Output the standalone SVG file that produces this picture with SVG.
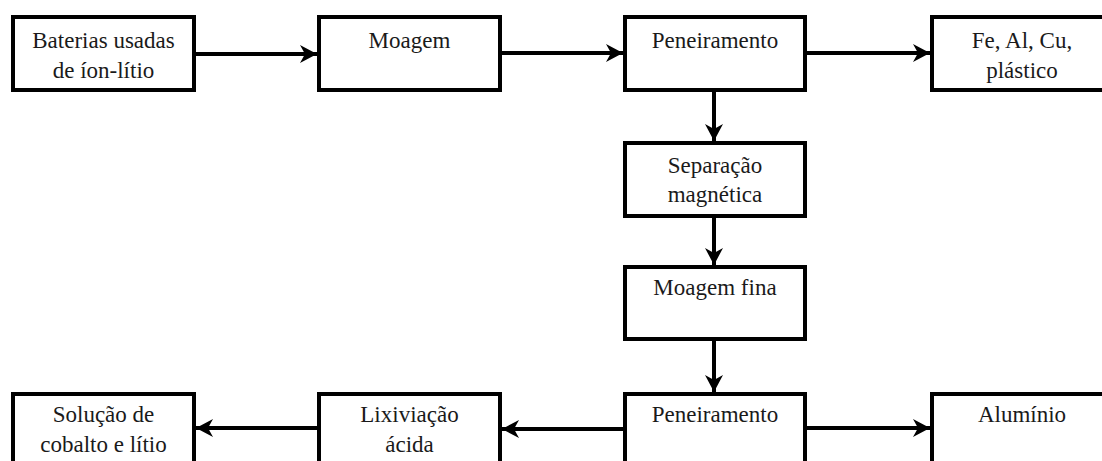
<svg xmlns="http://www.w3.org/2000/svg" width="1102" height="461" viewBox="0 0 1102 461">
  <style>
    .box { fill: #ffffff; stroke: #000000; stroke-width: 4; }
    .lbl { font-family: "Liberation Serif", "Times New Roman", serif; font-size: 23px; fill: #1a1a1a; text-anchor: middle; }
    .conn { stroke: #000000; stroke-width: 4; fill: none; marker-end: url(#head); }
  </style>
  <defs>
    <marker id="head" markerUnits="userSpaceOnUse" markerWidth="20" markerHeight="20" refX="17" refY="9" orient="auto">
      <path d="M0,0 L17,9 L0,18 L5,9 Z" fill="#000000"/>
    </marker>
  </defs>
  <rect x="0" y="0" width="1102" height="461" fill="#ffffff"/>

  <!-- process steps -->
  <g id="baterias">
    <rect class="box" x="13" y="17" width="181" height="73"/>
    <text class="lbl" x="103.5" y="48">Baterias usadas</text>
    <text class="lbl" x="103.5" y="78">de íon-lítio</text>
  </g>
  <g id="moagem">
    <rect class="box" x="319" y="17" width="181" height="73"/>
    <text class="lbl" x="409.5" y="48">Moagem</text>
  </g>
  <g id="peneiramento1">
    <rect class="box" x="625" y="17" width="180" height="73"/>
    <text class="lbl" x="715" y="48">Peneiramento</text>
  </g>
  <g id="metais">
    <rect class="box" x="932" y="17" width="181" height="73"/>
    <text class="lbl" x="1022" y="48">Fe, Al, Cu,</text>
    <text class="lbl" x="1022" y="78">plástico</text>
  </g>
  <g id="separacao">
    <rect class="box" x="625" y="143" width="180" height="73"/>
    <text class="lbl" x="715" y="173">Separação</text>
    <text class="lbl" x="715" y="202">magnética</text>
  </g>
  <g id="moagem-fina">
    <rect class="box" x="625" y="267" width="180" height="72"/>
    <text class="lbl" x="715" y="295">Moagem fina</text>
  </g>
  <g id="peneiramento2">
    <rect class="box" x="625" y="394" width="180" height="80"/>
    <text class="lbl" x="715" y="422">Peneiramento</text>
  </g>
  <g id="aluminio">
    <rect class="box" x="932" y="394" width="181" height="80"/>
    <text class="lbl" x="1022" y="422">Alumínio</text>
  </g>
  <g id="lixiviacao">
    <rect class="box" x="319" y="394" width="181" height="80"/>
    <text class="lbl" x="409.5" y="422">Lixiviação</text>
    <text class="lbl" x="409.5" y="452">ácida</text>
  </g>
  <g id="solucao">
    <rect class="box" x="13" y="394" width="181" height="80"/>
    <text class="lbl" x="103.5" y="422">Solução de</text>
    <text class="lbl" x="103.5" y="452">cobalto e lítio</text>
  </g>

  <!-- flow connectors -->
  <g id="connectors">
    <line class="conn" x1="196" y1="54" x2="317" y2="54"/>
    <line class="conn" x1="502" y1="53" x2="623" y2="53"/>
    <line class="conn" x1="807" y1="53" x2="930" y2="53"/>
    <line class="conn" x1="714" y1="92" x2="714" y2="141"/>
    <line class="conn" x1="714" y1="218" x2="714" y2="265"/>
    <line class="conn" x1="714" y1="341" x2="714" y2="392"/>
    <line class="conn" x1="807" y1="428" x2="930" y2="428"/>
    <line class="conn" x1="623" y1="429" x2="502" y2="429"/>
    <line class="conn" x1="317" y1="428" x2="196" y2="428"/>
  </g>
</svg>
